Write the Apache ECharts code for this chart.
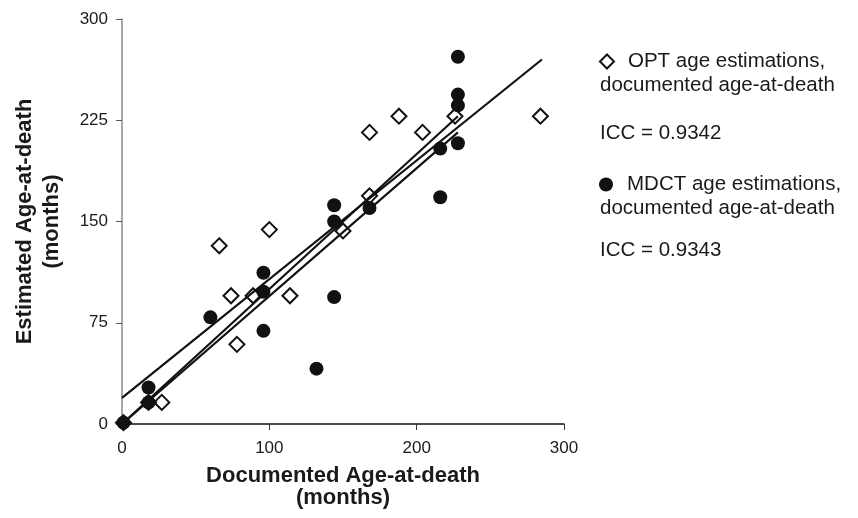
<!DOCTYPE html>
<html>
<head>
<meta charset="utf-8">
<script src="https://cdn.jsdelivr.net/npm/echarts@6/dist/echarts.min.js"></script>
<style>
  html, body { margin: 0; padding: 0; background: #fff; }
  #chart { width: 858px; height: 518px; }
</style>
</head>
<body>
<div id="chart"></div>
<script>
// documented age (x) vs estimated age (y), months
var optPoints = [
    [1, 1], [18, 16], [27, 16], [66, 132], [74, 95], [78, 59], [89, 95],
    [100, 144], [114, 95], [150, 143], [168, 169], [168, 216], [188, 228],
    [204, 216], [226, 228], [284, 228]
];
var mdctPoints = [
    [1, 1], [18, 27], [18, 16], [60, 79], [96, 112], [96, 98], [96, 69],
    [132, 41], [144, 162], [144, 150], [144, 94], [168, 160], [216, 204],
    [216, 168], [228, 272], [228, 244], [228, 236], [228, 208]
];
// trend lines
var fitLineA = [[0, 19.3], [285, 270]];
var fitLineB = [[0, 0], [228, 228]];
var fitLineC = [[0, 0], [228, 216]];

var xTicks = [0, 100, 200, 300];
var yTicks = [0, 75, 150, 225, 300];

var optName = 'OPT age estimations, documented age-at-death';
var mdctName = 'MDCT age estimations, documented age-at-death';
var optIcc = 'ICC = 0.9342';
var mdctIcc = 'ICC = 0.9343';

var font = 'Liberation Sans, Arial, Helvetica, sans-serif';
var ink = '#1a1a1a';
var legendSize = 20.5;

var chart = echarts.init(document.getElementById('chart'));

function legendFor(name, top) {
    return {
        data: [name],
        orient: 'vertical',
        left: 599,
        top: top,
        padding: 0,
        itemWidth: 14,
        itemHeight: 14,
        selectedMode: false,
        formatter: function (n) {
            return '{t|' + n.split(',')[0] + ',}';
        },
        textStyle: {
            fontFamily: font,
            fontSize: legendSize,
            color: ink,
            rich: {
                t: { fontFamily: font, fontSize: legendSize, color: ink, padding: [0, 0, 0, 9] }
            }
        }
    };
}

function legendText(text, x, y) {
    return {
        type: 'text',
        x: x,
        y: y,
        style: {
            text: text,
            fill: ink,
            font: legendSize + 'px ' + font,
            verticalAlign: 'middle'
        }
    };
}

function fitSeries(data) {
    return {
        type: 'line',
        data: data,
        symbol: 'none',
        silent: true,
        z: 3,
        lineStyle: { color: '#111', width: 2.2 }
    };
}

var option = {
    animation: false,
    backgroundColor: '#fff',
    grid: { left: 122, right: 294, top: 19, bottom: 94 },
    xAxis: {
        type: 'value',
        min: 0,
        max: 300,
        interval: 100,
        name: 'Documented Age-at-death\n(months)',
        nameLocation: 'middle',
        nameGap: 41,
        nameTextStyle: { fontFamily: font, fontSize: 22, fontWeight: 'bold', color: ink, lineHeight: 22 },
        axisLine: { lineStyle: { color: '#111', width: 1.5 } },
        axisTick: { length: 6, lineStyle: { color: '#333' } },
        axisLabel: {
            margin: 16,
            fontFamily: font,
            fontSize: 17,
            color: ink,
            formatter: function (v) { return xTicks.indexOf(v) >= 0 ? String(v) : ''; }
        },
        splitLine: { show: false }
    },
    yAxis: {
        type: 'value',
        min: 0,
        max: 300,
        interval: 75,
        name: 'Estimated Age-at-death\n(months)',
        nameLocation: 'middle',
        nameGap: 57,
        nameTextStyle: { fontFamily: font, fontSize: 22, fontWeight: 'bold', color: ink, lineHeight: 27 },
        axisLine: { show: true, lineStyle: { color: '#8a8a8a', width: 1.5 } },
        axisTick: { show: true, length: 6, lineStyle: { color: '#555' } },
        axisLabel: {
            margin: 14,
            fontFamily: font,
            fontSize: 17,
            color: ink,
            formatter: function (v) { return yTicks.indexOf(v) >= 0 ? String(v) : ''; }
        },
        splitLine: { show: false }
    },
    legend: [legendFor(optName, 51), legendFor(mdctName, 174)],
    graphic: [
        legendText('documented age-at-death', 600, 85),
        legendText(optIcc, 600, 133),
        legendText('documented age-at-death', 600, 208),
        legendText(mdctIcc, 600, 250)
    ],
    series: [
        {
            name: mdctName,
            type: 'scatter',
            data: mdctPoints,
            symbol: 'circle',
            symbolSize: 14,
            z: 2,
            itemStyle: { color: '#111', opacity: 1 }
        },
        {
            name: optName,
            type: 'scatter',
            data: optPoints,
            symbol: 'diamond',
            symbolSize: 15,
            z: 2,
            itemStyle: { color: 'rgba(255,255,255,0)', borderColor: '#111', borderWidth: 2, opacity: 1 }
        },
        fitSeries(fitLineA),
        fitSeries(fitLineB),
        fitSeries(fitLineC)
    ]
};

chart.setOption(option);
</script>
</body>
</html>
